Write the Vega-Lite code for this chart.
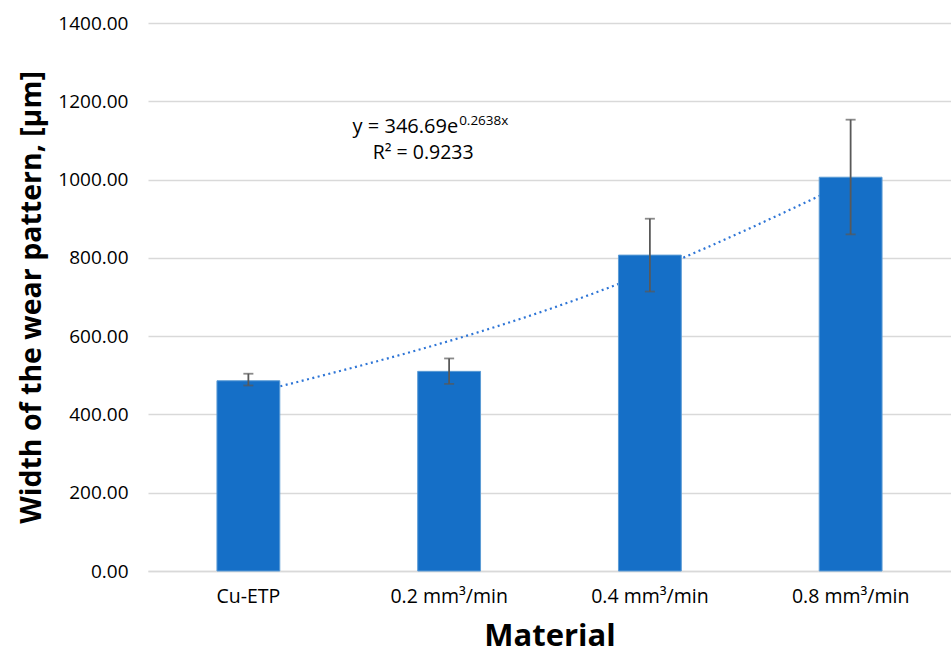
{
  "$schema": "https://vega.github.io/schema/vega-lite/v6.json",
  "width": 803,
  "height": 548,
  "autosize": "none",
  "padding": {"left": 148, "top": 23, "right": 0, "bottom": 90},
  "background": "white",
  "config": {
    "view": {"stroke": null},
    "font": "Open Sans"
  },
  "data": {
    "values": [
      {"material": "Cu-ETP", "width": 486, "lo": 474, "hi": 504, "trend": 451.4},
      {"material": "0.2 mm³/min", "width": 510, "lo": 478, "hi": 543, "trend": 587.6},
      {"material": "0.4 mm³/min", "width": 807, "lo": 714, "hi": 900, "trend": 765.0},
      {"material": "0.8 mm³/min", "width": 1006, "lo": 860, "hi": 1153, "trend": 995.9}
    ]
  },
  "encoding": {
    "x": {
      "field": "material",
      "type": "nominal",
      "sort": null,
      "scale": {"paddingInner": 0.687, "paddingOuter": 0.3435},
      "axis": {
        "title": "Material",
        "titleFont": "Open Sans",
        "titleFontSize": 31,
        "titleFontWeight": "bold",
        "titleColor": "#000000",
        "titlePadding": 16,
        "labelAngle": 0,
        "labelFont": "Open Sans",
        "labelFontSize": 19.5,
        "labelColor": "#000000",
        "labelPadding": 16,
        "ticks": false,
        "domain": true,
        "domainColor": "#D9D9D9",
        "domainWidth": 1.5,
        "grid": false
      }
    }
  },
  "layer": [
    {
      "mark": {"type": "line", "interpolate": "natural", "color": "#2E75D6", "strokeWidth": 2.2, "strokeDash": [2, 3.5]},
      "encoding": {
        "y": {
          "field": "trend",
          "type": "quantitative",
          "scale": {"domain": [0, 1400]},
          "axis": {
            "title": "Width of the wear pattern, [μm]",
            "titleFont": "Open Sans",
            "titleFontSize": 28.5,
            "titleFontWeight": "bold",
            "titleColor": "#000000",
            "titlePadding": 11,
            "values": [0, 200, 400, 600, 800, 1000, 1200, 1400],
            "format": ".2f",
            "labelFont": "Open Sans",
            "labelFontSize": 19,
            "labelColor": "#000000",
            "labelPadding": 20,
            "ticks": false,
            "domain": false,
            "grid": true,
            "gridColor": "#D9D9D9",
            "gridWidth": 1.5
          }
        }
      }
    },
    {
      "mark": {"type": "bar", "color": "#156FC7", "stroke": "#5B9BD5", "strokeWidth": 1},
      "encoding": {"y": {"field": "width", "type": "quantitative"}}
    },
    {
      "mark": {"type": "rule", "color": "#595959", "strokeWidth": 1.8},
      "encoding": {
        "y": {"field": "lo", "type": "quantitative"},
        "y2": {"field": "hi"}
      }
    },
    {
      "mark": {"type": "tick", "orient": "horizontal", "color": "#595959", "size": 10, "thickness": 1.8},
      "encoding": {"y": {"field": "lo", "type": "quantitative"}}
    },
    {
      "mark": {"type": "tick", "orient": "horizontal", "color": "#595959", "size": 10, "thickness": 1.8},
      "encoding": {"y": {"field": "hi", "type": "quantitative"}}
    },
    {
      "data": {"values": [
        {"material": "0.2 mm³/min", "y": 1135, "main": "y = 346.69e", "sup": "0.2638x"}
      ]},
      "layer": [
        {
          "mark": {"type": "text", "align": "right", "baseline": "middle", "fontSize": 20, "dx": 9, "color": "#000000", "font": "Open Sans"},
          "encoding": {
            "y": {"field": "y", "type": "quantitative"},
            "text": {"field": "main"}
          }
        },
        {
          "mark": {"type": "text", "align": "left", "baseline": "middle", "fontSize": 13.5, "dx": 10, "dy": -6, "color": "#000000", "font": "Open Sans"},
          "encoding": {
            "y": {"field": "y", "type": "quantitative"},
            "text": {"field": "sup"}
          }
        }
      ]
    },
    {
      "data": {"values": [
        {"material": "0.2 mm³/min", "y": 1068, "label": "R² = 0.9233"}
      ]},
      "mark": {"type": "text", "align": "center", "baseline": "middle", "fontSize": 19.5, "dx": -26, "color": "#000000", "font": "Open Sans"},
      "encoding": {
        "y": {"field": "y", "type": "quantitative"},
        "text": {"field": "label"}
      }
    }
  ]
}
